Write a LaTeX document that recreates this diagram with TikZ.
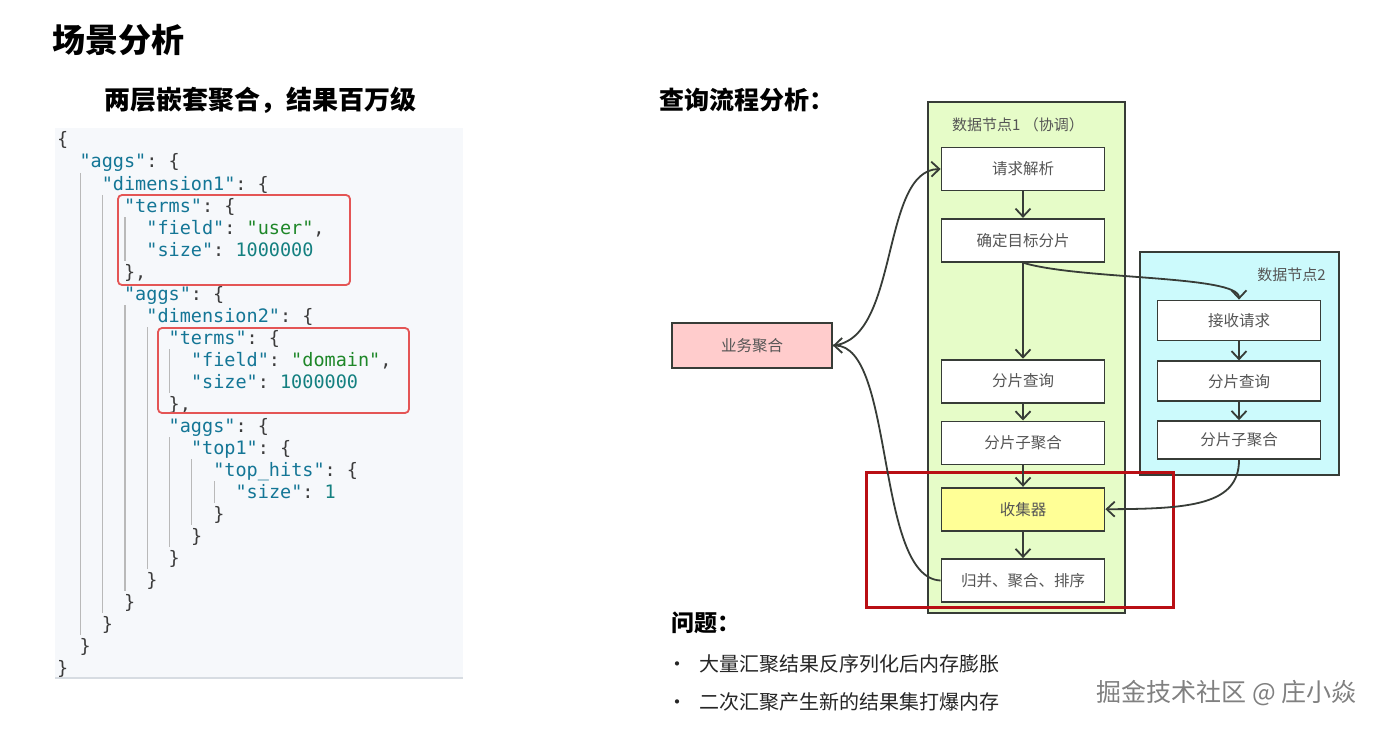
\documentclass[tikz,border=0pt]{standalone}
\usepackage{fontspec}
\setmainfont{Noto Sans CJK SC}
\setmonofont{DejaVu Sans Mono}
\usetikzlibrary{arrows.meta, positioning}

\definecolor{keyc}{RGB}{20,118,150}
\definecolor{strc}{RGB}{30,135,40}
\definecolor{numc}{RGB}{20,128,128}
\definecolor{bracec}{RGB}{60,60,60}
\definecolor{codebg}{RGB}{246,248,251}
\definecolor{codeedge}{RGB}{215,220,226}
\definecolor{guidec}{RGB}{185,185,185}
\definecolor{redbox}{RGB}{228,85,85}
\definecolor{darkred}{RGB}{185,15,20}
\definecolor{nodegreen}{RGB}{230,252,200}
\definecolor{nodecyan}{RGB}{204,250,252}
\definecolor{bizpink}{RGB}{255,204,204}
\definecolor{collyellow}{RGB}{255,255,150}
\definecolor{edgec}{RGB}{55,60,55}
\definecolor{labelc}{RGB}{85,85,85}

\newcommand{\jk}[1]{\textcolor{keyc}{"#1"}}
\newcommand{\js}[1]{\textcolor{strc}{"#1"}}
\newcommand{\jn}[1]{\textcolor{numc}{#1}}

\begin{document}
\begin{tikzpicture}[
  x=1pt, y=-1pt,
  task/.style={draw=edgec, line width=1.8pt, fill=white, minimum width=163pt, minimum height=43pt, font=\fontsize{15.5}{18}\selectfont, text=labelc},
  cluster/.style={draw=edgec, line width=1.8pt},
  codebox/.style={draw=redbox, line width=1.8pt, rounded corners=4pt},
  codeline/.style={anchor=base west, inner sep=0pt, font=\fontsize{18.5}{22}\ttfamily, text=bracec},
  guide/.style={draw=guidec, line width=1.2pt},
  heading/.style={anchor=west, inner sep=0pt, font=\fontsize{25}{30}\selectfont\bfseries},
  arr/.style={-{Straight Barb[length=8pt,width=15pt]}, line width=1.8pt, draw=edgec},
]
\fill[white] (0,0) rectangle (1378,730);
\useasboundingbox (0,0) rectangle (1378,730);

% headings
\node[heading, font=\fontsize{33}{40}\selectfont\bfseries] (title) at (52,40) {场景分析};
\node[heading, font=\fontsize{26}{32}\selectfont\bfseries] (codettl) at (104,100) {两层嵌套聚合，结果百万级};
\node[heading] (flowttl) at (659,100) {查询流程分析：};

% json query
\fill[codebg] (55,128) rectangle (463,678);
\draw[codeedge, line width=2pt] (55,678) -- (463,678);
\foreach \lvl/\a/\b in {1/3/23, 2/4/22, 3/5/6, 3/9/21, 4/10/20, 5/11/12, 5/15/19, 6/16/18, 7/17/17}
  \draw[guide] ({58+22.3*\lvl}, {129+22*(\a-1)}) -- ({58+22.3*\lvl}, {151+22*(\b-1)});
\foreach \lvl/\txt [count=\i] in {
  0/{\{}, 1/{\jk{aggs}: \{}, 2/{\jk{dimension1}: \{}, 3/{\jk{terms}: \{},
  4/{\jk{field}: \js{user},}, 4/{\jk{size}: \jn{1000000}}, 3/{\},},
  3/{\jk{aggs}: \{}, 4/{\jk{dimension2}: \{}, 5/{\jk{terms}: \{},
  6/{\jk{field}: \js{domain},}, 6/{\jk{size}: \jn{1000000}}, 5/{\},},
  5/{\jk{aggs}: \{}, 6/{\jk{top1}: \{}, 7/{\jk{top\_hits}: \{}, 8/{\jk{size}: \jn{1}},
  7/{\}}, 6/{\}}, 5/{\}}, 4/{\}}, 3/{\}}, 2/{\}}, 1/{\}}, 0/{\}}}
  \node[codeline] (line\i) at ({57+22.3*\lvl}, {146+22*(\i-1)}) {\txt};
\node[codebox, minimum width=232pt, minimum height=90pt] (terms1) at (234,240) {};
\node[codebox, minimum width=251pt, minimum height=85pt] (terms2) at (283.5,370.5) {};

% data nodes
\node[cluster, fill=nodegreen, minimum width=197pt, minimum height=511pt] (dn1) at (1026.5,357.5) {};
\node[cluster, fill=nodecyan, minimum width=199pt, minimum height=223pt] (dn2) at (1239.5,363.5) {};
\node[anchor=west, inner sep=0pt, font=\fontsize{15}{18}\selectfont, text=labelc] (dn1lbl) at (952,125) {数据节点1 （协调）};
\node[anchor=east, inner sep=0pt, font=\fontsize{15}{18}\selectfont, text=labelc] (dn2lbl) at (1326,275) {数据节点2};

\node[task] (req) at (1023,169) {请求解析};
\node[task, below=26.5pt of req] (tgt) {确定目标分片};
\node[task, below=96pt of tgt] (q1) {分片查询};
\node[task, below=17pt of q1] (sagg1) {分片子聚合};
\node[task, fill=collyellow, below=21.5pt of sagg1] (coll) {收集器};
\node[task, below=26.5pt of coll] (merge) {归并、聚合、排序};

\node[task, minimum height=40pt] (recv) at (1239,320.5) {接收请求};
\node[task, minimum height=40pt, below=19pt of recv] (q2) {分片查询};
\node[task, minimum height=38pt, below=18pt of q2] (sagg2) {分片子聚合};

\node[task, fill=bizpink, minimum width=160pt, minimum height=45pt] (biz) at (752,345.5) {业务聚合};

\node[draw=darkred, line width=3pt, minimum width=307pt, minimum height=135pt] (hl) at (1019.5,539.5) {};

\draw[arr] (req) -- (tgt);
\draw[arr] (tgt) -- (q1);
\draw[arr] (q1) -- (sagg1);
\draw[arr] (sagg1) -- (coll);
\draw[arr] (coll) -- (merge);
\draw[arr] (recv) -- (q2);
\draw[arr] (q2) -- (sagg2);
\draw[arr] (tgt.south) .. controls (1080,280) and (1239,275) .. (recv.north);
\draw[arr] (sagg2.south) .. controls (1239,505) and (1190,509) .. (coll.east);
\draw[arr] (biz.east) .. controls (900,340) and (880,170) .. (req.west);
\draw[arr] (merge.west) .. controls (875,578) and (895,345) .. (biz.east);

% issues
\node[heading, font=\fontsize{23}{28}\selectfont\bfseries] (issttl) at (671,623) {问题：};
\node[anchor=west, inner sep=0pt, font=\fontsize{20}{24}\selectfont, text=black!85] (iss1) at (667,664) {•\hspace{12pt}大量汇聚结果反序列化后内存膨胀};
\node[anchor=west, inner sep=0pt, font=\fontsize{20}{24}\selectfont, text=black!85] (iss2) at (667,702) {•\hspace{12pt}二次汇聚产生新的结果集打爆内存};
\node[anchor=east, inner sep=0pt, font=\fontsize{25}{30}\selectfont, text=black!50] (wm) at (1357,693) {掘金技术社区 @ 庄小焱};
\end{tikzpicture}
\end{document}
